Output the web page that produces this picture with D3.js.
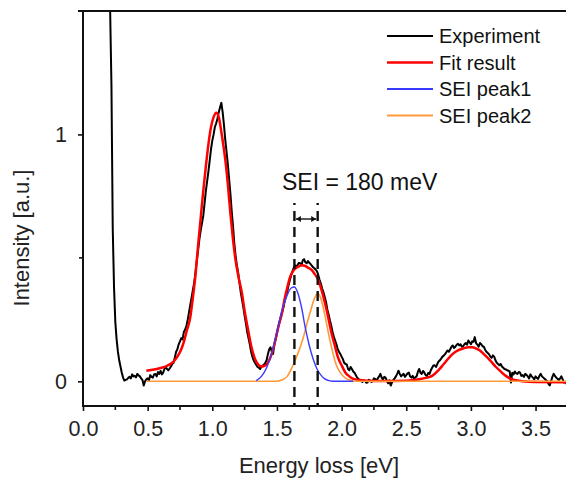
<!DOCTYPE html>
<html>
<head>
<meta charset="utf-8">
<script src="https://cdn.jsdelivr.net/npm/d3@7"></script>
<style>
  html, body { margin: 0; padding: 0; background: #fff; }
  svg { display: block; font-family: "Liberation Sans", Arial, sans-serif; }
</style>
</head>
<body>
<svg id="chart" width="566" height="482"></svg>
<script>
// Measured EELS spectrum: [energy loss (eV), intensity (a.u.)]
const experiment = [
  [0.20,1.95],[0.21,1.50],[0.22,1.20],[0.23,0.62],[0.24,0.38],[0.25,0.24],[0.26,0.17],[0.27,0.12],
  [0.28,0.085],[0.29,0.06],[0.30,0.035],[0.31,0.015],[0.32,0.003],[0.33,0.006],[0.34,0.008],[0.35,0.014],
  [0.36,0.018],[0.37,0.012],[0.38,0.028],[0.39,0.02],[0.40,0.022],[0.41,0.016],[0.42,0.03],[0.43,0.024],
  [0.44,0.02],[0.45,0.012],[0.46,0.005],[0.47,-0.017],[0.48,0.0],[0.49,0.008],[0.50,0.012],[0.51,0.004],
  [0.52,0.025],[0.53,0.018],[0.54,0.015],[0.55,0.028],[0.56,0.03],[0.57,0.02],[0.58,0.038],[0.59,0.03],
  [0.60,0.042],[0.61,0.028],[0.62,0.035],[0.63,0.05],[0.64,0.057],[0.65,0.05],[0.66,0.045],[0.67,0.052],
  [0.68,0.06],[0.69,0.07],[0.70,0.075],[0.71,0.095],[0.72,0.12],[0.73,0.13],[0.74,0.15],[0.75,0.162],
  [0.76,0.175],[0.77,0.17],[0.78,0.2],[0.79,0.21],[0.80,0.225],[0.81,0.25],[0.82,0.28],[0.83,0.31],
  [0.84,0.34],[0.85,0.37],[0.86,0.40],[0.87,0.44],[0.88,0.49],[0.89,0.53],[0.90,0.575],[0.91,0.61],
  [0.92,0.64],[0.93,0.67],[0.94,0.72],[0.95,0.77],[0.96,0.81],[0.97,0.85],[0.98,0.895],[0.99,0.94],
  [1.00,0.975],[1.01,1.0],[1.02,1.03],[1.03,1.045],[1.04,1.065],[1.05,1.09],[1.06,1.11],[1.07,1.128],
  [1.08,1.09],[1.09,1.04],[1.10,0.98],[1.11,0.93],[1.12,0.88],[1.13,0.82],[1.14,0.76],[1.15,0.69],
  [1.16,0.63],[1.17,0.56],[1.18,0.51],[1.19,0.47],[1.20,0.44],[1.21,0.4],[1.22,0.36],[1.23,0.33],
  [1.24,0.30],[1.25,0.265],[1.26,0.235],[1.27,0.2],[1.28,0.175],[1.29,0.15],[1.30,0.12],[1.31,0.1],
  [1.32,0.085],[1.33,0.075],[1.34,0.066],[1.35,0.058],[1.36,0.055],[1.37,0.05],[1.38,0.06],[1.39,0.064],
  [1.40,0.068],[1.41,0.075],[1.42,0.085],[1.43,0.11],[1.44,0.13],[1.45,0.138],[1.46,0.12],[1.47,0.111],
  [1.48,0.15],[1.49,0.17],[1.50,0.195],[1.51,0.22],[1.52,0.24],[1.53,0.26],[1.54,0.28],[1.55,0.3],
  [1.56,0.325],[1.57,0.345],[1.58,0.365],[1.59,0.39],[1.60,0.41],[1.61,0.43],[1.62,0.445],[1.63,0.46],
  [1.64,0.47],[1.65,0.465],[1.66,0.472],[1.67,0.48],[1.68,0.478],[1.69,0.47],[1.70,0.49],[1.71,0.495],
  [1.72,0.482],[1.73,0.478],[1.74,0.487],[1.75,0.48],[1.76,0.475],[1.77,0.468],[1.78,0.462],[1.79,0.458],
  [1.80,0.452],[1.81,0.445],[1.82,0.43],[1.83,0.41],[1.84,0.395],[1.85,0.375],[1.86,0.36],[1.87,0.34],
  [1.88,0.32],[1.89,0.29],[1.90,0.27],[1.91,0.246],[1.92,0.225],[1.93,0.2],[1.94,0.18],[1.95,0.165],
  [1.96,0.15],[1.97,0.13],[1.98,0.12],[1.99,0.111],[2.00,0.1],[2.01,0.09],[2.02,0.075],[2.03,0.07],
  [2.04,0.068],[2.05,0.05],[2.06,0.045],[2.07,0.058],[2.08,0.05],[2.09,0.04],[2.10,0.035],[2.11,0.025],
  [2.12,0.015],[2.13,0.01],[2.14,0.003],[2.15,0.006],[2.16,-0.003],[2.17,0.004],[2.18,0.002],[2.19,-0.006],
  [2.20,-0.005],[2.21,0.006],[2.22,0.004],[2.23,-0.002],[2.24,0.0],[2.25,0.012],[2.26,0.01],[2.27,0.002],
  [2.28,0.012],[2.29,0.02],[2.30,0.03],[2.31,0.015],[2.32,0.008],[2.33,0.018],[2.34,0.015],[2.35,0.002],
  [2.36,-0.008],[2.37,0.004],[2.38,-0.017],[2.39,-0.004],[2.40,0.005],[2.41,0.012],[2.42,0.02],[2.43,0.03],
  [2.44,0.043],[2.45,0.03],[2.46,0.02],[2.47,0.026],[2.48,0.03],[2.49,0.018],[2.50,0.025],[2.51,0.032],
  [2.52,0.035],[2.53,0.02],[2.54,0.015],[2.55,0.022],[2.56,0.01],[2.57,0.016],[2.58,0.02],[2.59,0.038],
  [2.60,0.05],[2.61,0.035],[2.62,0.03],[2.63,0.042],[2.64,0.035],[2.65,0.025],[2.66,0.022],[2.67,0.034],
  [2.68,0.03],[2.69,0.045],[2.70,0.055],[2.71,0.064],[2.72,0.065],[2.73,0.058],[2.74,0.07],[2.75,0.08],
  [2.76,0.085],[2.77,0.092],[2.78,0.1],[2.79,0.104],[2.80,0.11],[2.81,0.118],[2.82,0.125],[2.83,0.12],
  [2.84,0.13],[2.85,0.14],[2.86,0.145],[2.87,0.135],[2.88,0.14],[2.89,0.148],[2.90,0.152],[2.91,0.145],
  [2.92,0.15],[2.93,0.14],[2.94,0.142],[2.95,0.15],[2.96,0.155],[2.97,0.148],[2.98,0.165],[2.99,0.158],
  [3.00,0.15],[3.01,0.162],[3.02,0.16],[3.03,0.179],[3.04,0.155],[3.05,0.148],[3.06,0.14],[3.07,0.155],
  [3.08,0.15],[3.09,0.142],[3.10,0.14],[3.11,0.128],[3.12,0.12],[3.13,0.115],[3.14,0.11],[3.15,0.1],
  [3.16,0.095],[3.17,0.105],[3.18,0.1],[3.19,0.085],[3.20,0.075],[3.21,0.07],[3.22,0.065],[3.23,0.07],
  [3.24,0.06],[3.25,0.055],[3.26,0.05],[3.27,0.048],[3.28,0.045],[3.29,0.043],[3.30,0.04],[3.31,-0.005],
  [3.32,0.035],[3.33,0.028],[3.34,0.04],[3.35,0.032],[3.36,0.03],[3.37,0.038],[3.38,0.035],[3.39,0.022],
  [3.40,0.025],[3.41,0.018],[3.42,0.03],[3.43,0.026],[3.44,0.02],[3.45,0.012],[3.46,0.028],[3.47,0.02],
  [3.48,0.015],[3.49,0.008],[3.50,0.02],[3.51,0.014],[3.52,0.01],[3.53,0.022],[3.54,0.03],[3.55,0.02],
  [3.56,0.015],[3.57,0.01],[3.58,0.005],[3.59,0.0],[3.60,-0.01],[3.61,-0.017],[3.62,0.0],[3.63,0.018],
  [3.64,0.03],[3.65,0.022],[3.66,0.015],[3.67,0.01],[3.68,0.005],[3.69,0.012],[3.70,0.02],[3.71,0.008],
  [3.72,-0.005],[3.73,-0.002],[3.74,-0.01],[3.75,-0.004]
];

// Total fit curve
const fitResult = [
  [0.49,0.043],[0.55,0.048],[0.60,0.054],[0.65,0.063],[0.70,0.08],[0.73,0.1],[0.76,0.13],[0.78,0.16],
  [0.80,0.2],[0.83,0.26],[0.85,0.34],[0.87,0.43],[0.89,0.55],[0.91,0.66],[0.93,0.77],[0.95,0.87],
  [0.97,0.96],[0.99,1.03],[1.01,1.07],[1.03,1.088],[1.05,1.07],[1.07,1.01],[1.09,0.94],[1.10,0.9],
  [1.12,0.80],[1.14,0.68],[1.16,0.575],[1.18,0.49],[1.20,0.43],[1.23,0.355],[1.25,0.285],[1.28,0.2],
  [1.30,0.145],[1.33,0.091],[1.36,0.066],[1.38,0.06],[1.40,0.062],[1.42,0.068],[1.44,0.085],[1.46,0.112],
  [1.48,0.15],[1.51,0.219],[1.54,0.28],[1.56,0.335],[1.58,0.38],[1.60,0.42],[1.62,0.442],[1.64,0.456],
  [1.67,0.466],[1.69,0.47],[1.72,0.467],[1.74,0.46],[1.77,0.45],[1.79,0.436],[1.82,0.41],[1.85,0.36],
  [1.87,0.32],[1.89,0.275],[1.92,0.2],[1.95,0.14],[1.97,0.1],[2.00,0.065],[2.03,0.035],[2.06,0.02],
  [2.09,0.01],[2.14,0.005],[2.20,0.002],[2.30,0.001],[2.50,0.002],[2.60,0.008],[2.65,0.014],[2.70,0.022],
  [2.75,0.045],[2.79,0.07],[2.83,0.095],[2.86,0.111],[2.90,0.125],[2.94,0.133],[2.98,0.138],[3.01,0.138],
  [3.04,0.133],[3.07,0.125],[3.10,0.11],[3.15,0.084],[3.19,0.06],[3.23,0.04],[3.27,0.022],[3.30,0.012],
  [3.35,0.004],[3.40,0.0],[3.50,-0.003],[3.75,-0.004]
];

// SEI component 1
const seiPeak1 = [
  [1.34,0.003],[1.38,0.02],[1.42,0.055],[1.46,0.115],[1.50,0.2],[1.54,0.29],[1.58,0.35],[1.61,0.378],
  [1.635,0.382],[1.66,0.36],[1.69,0.3],[1.72,0.215],[1.75,0.145],[1.78,0.09],[1.81,0.05],[1.84,0.025],
  [1.87,0.01],[1.91,0.002],[1.95,0.0],[2.09,0.0]
];

// SEI component 2
const seiPeak2 = [
  [0.49,0.0],[1.50,0.0],[1.54,0.006],[1.58,0.02],[1.62,0.06],[1.66,0.11],[1.70,0.17],[1.73,0.23],
  [1.76,0.285],[1.79,0.335],[1.815,0.355],[1.84,0.335],[1.87,0.27],[1.90,0.19],[1.93,0.12],[1.96,0.065],
  [1.99,0.035],[2.03,0.013],[2.07,0.004],[2.11,0.0],[3.75,0.0]
];

// Peak positions marked by dashed lines (eV) and annotation
const peakMarks = [1.635, 1.815];
const annotation = "SEI = 180 meV";

const xTicks = [0.0, 0.5, 1.0, 1.5, 2.0, 2.5, 3.0, 3.5];
const xMinorTicks = [0.25, 0.75, 1.25, 1.75, 2.25, 2.75, 3.25, 3.75];
const yTicks = [0, 1];
const yMinorTicks = [0.5];

const legendItems = [
  { label: "Experiment", color: "#000000", width: 2 },
  { label: "Fit result", color: "#ff0000", width: 2.5 },
  { label: "SEI peak1", color: "#3a3aff", width: 1.4 },
  { label: "SEI peak2", color: "#ff9a3a", width: 1.6 }
];

const svg = d3.select("#chart");
const W = 566;
const pL = 83, pR = 83 + 3.75 * 129.3, pT = 11, pB = 406;

const x = d3.scaleLinear().domain([0, 3.75]).range([pL, pR]);
const y = d3.scaleLinear().domain([-0.1, 1.5]).range([pB, pT]);

svg.append("defs").append("clipPath").attr("id", "plotClip")
  .append("rect").attr("x", pL).attr("y", pT)
  .attr("width", pR - pL).attr("height", pB - pT);

const plot = svg.append("g").attr("clip-path", "url(#plotClip)");

const lineRaw = d3.line().x(d => x(d[0])).y(d => y(d[1])).curve(d3.curveLinear);
const lineSmooth = d3.line().x(d => x(d[0])).y(d => y(d[1])).curve(d3.curveMonotoneX);

plot.append("path").datum(experiment).attr("d", lineRaw)
  .attr("fill", "none").attr("stroke", legendItems[0].color)
  .attr("stroke-width", legendItems[0].width).attr("stroke-linejoin", "round");
plot.append("path").datum(fitResult).attr("d", lineSmooth)
  .attr("fill", "none").attr("stroke", legendItems[1].color)
  .attr("stroke-width", legendItems[1].width).attr("stroke-linejoin", "round");
plot.append("path").datum(seiPeak2).attr("d", lineSmooth)
  .attr("fill", "none").attr("stroke", legendItems[3].color)
  .attr("stroke-width", legendItems[3].width);
plot.append("path").datum(seiPeak1).attr("d", lineSmooth)
  .attr("fill", "none").attr("stroke", legendItems[2].color)
  .attr("stroke-width", legendItems[2].width);

// Dashed peak markers with a double arrow between them
const markTop = 203, arrowY = 219;
peakMarks.forEach(p => {
  svg.append("line")
    .attr("x1", x(p)).attr("x2", x(p))
    .attr("y1", markTop).attr("y2", pB)
    .attr("stroke", "#111").attr("stroke-width", 2.4)
    .attr("stroke-dasharray", "10,6").attr("stroke-dashoffset", 8);
});
const xa = x(peakMarks[0]) + 1.5, xb = x(peakMarks[1]) - 1.5;
svg.append("line").attr("x1", xa).attr("x2", xb)
  .attr("y1", arrowY).attr("y2", arrowY)
  .attr("stroke", "#111").attr("stroke-width", 1.4);
svg.append("path")
  .attr("d", `M${xa},${arrowY} l5,-3 l0,6 Z M${xb},${arrowY} l-5,-3 l0,6 Z`)
  .attr("fill", "#111");

svg.append("text").attr("x", 282).attr("y", 190)
  .attr("font-size", 23).attr("fill", "#111").text(annotation);

// Axes
const axisColor = "#111";
const xAxis = d3.axisBottom(x).tickValues(xTicks).tickFormat(d3.format(".1f"))
  .tickSizeInner(5).tickSizeOuter(0).tickPadding(10);
const gx = svg.append("g").attr("transform", `translate(0,${pB})`).call(xAxis);
gx.append("g").selectAll("line").data(xMinorTicks).join("line")
  .attr("x1", d => x(d)).attr("x2", d => x(d)).attr("y1", 0).attr("y2", 4)
  .attr("stroke", axisColor).attr("stroke-width", 1.6);
gx.select(".domain").remove();
gx.selectAll(".tick line").attr("stroke", axisColor).attr("stroke-width", 1.6);
gx.selectAll(".tick text").attr("font-size", 21.5).attr("fill", "#222")
  .attr("font-family", "'Liberation Sans', Arial, sans-serif");

const yAxis = d3.axisLeft(y).tickValues(yTicks).tickFormat(d3.format("d"))
  .tickSizeInner(5).tickSizeOuter(0).tickPadding(11);
const gy = svg.append("g").attr("transform", `translate(${pL},0)`).call(yAxis);
gy.append("g").selectAll("line").data(yMinorTicks).join("line")
  .attr("x1", 0).attr("x2", -4).attr("y1", d => y(d)).attr("y2", d => y(d))
  .attr("stroke", axisColor).attr("stroke-width", 1.6);
gy.select(".domain").remove();
gy.selectAll(".tick line").attr("stroke", axisColor).attr("stroke-width", 1.6);
gy.selectAll(".tick text").attr("font-size", 21.5).attr("fill", "#222")
  .attr("font-family", "'Liberation Sans', Arial, sans-serif");

// Frame lines: left, bottom and top
svg.append("line").attr("x1", pL).attr("x2", pL).attr("y1", pT - 1).attr("y2", pB + 1)
  .attr("stroke", axisColor).attr("stroke-width", 2);
svg.append("line").attr("x1", pL - 1).attr("x2", W).attr("y1", pB).attr("y2", pB)
  .attr("stroke", axisColor).attr("stroke-width", 2);
svg.append("line").attr("x1", pL - 5).attr("x2", W).attr("y1", pT).attr("y2", pT)
  .attr("stroke", axisColor).attr("stroke-width", 2);

// Axis titles
svg.append("text").attr("x", 319).attr("y", 473).attr("text-anchor", "middle")
  .attr("font-size", 22).attr("fill", "#222").text("Energy loss [eV]");
svg.append("text").attr("transform", "translate(29,238) rotate(-90)")
  .attr("text-anchor", "middle").attr("font-size", 22).attr("fill", "#222")
  .text("Intensity [a.u.]");

// Legend
const legend = svg.append("g").attr("transform", "translate(387,36)");
const row = legend.selectAll("g").data(legendItems).join("g")
  .attr("transform", (d, i) => `translate(0,${i * 26.5})`);
row.append("line").attr("x1", 0).attr("x2", 46).attr("y1", 0).attr("y2", 0)
  .attr("stroke", d => d.color).attr("stroke-width", d => Math.max(d.width, 2));
row.append("text").attr("x", 52).attr("y", 7).attr("font-size", 20)
  .attr("fill", "#111").text(d => d.label);
</script>
</body>
</html>
